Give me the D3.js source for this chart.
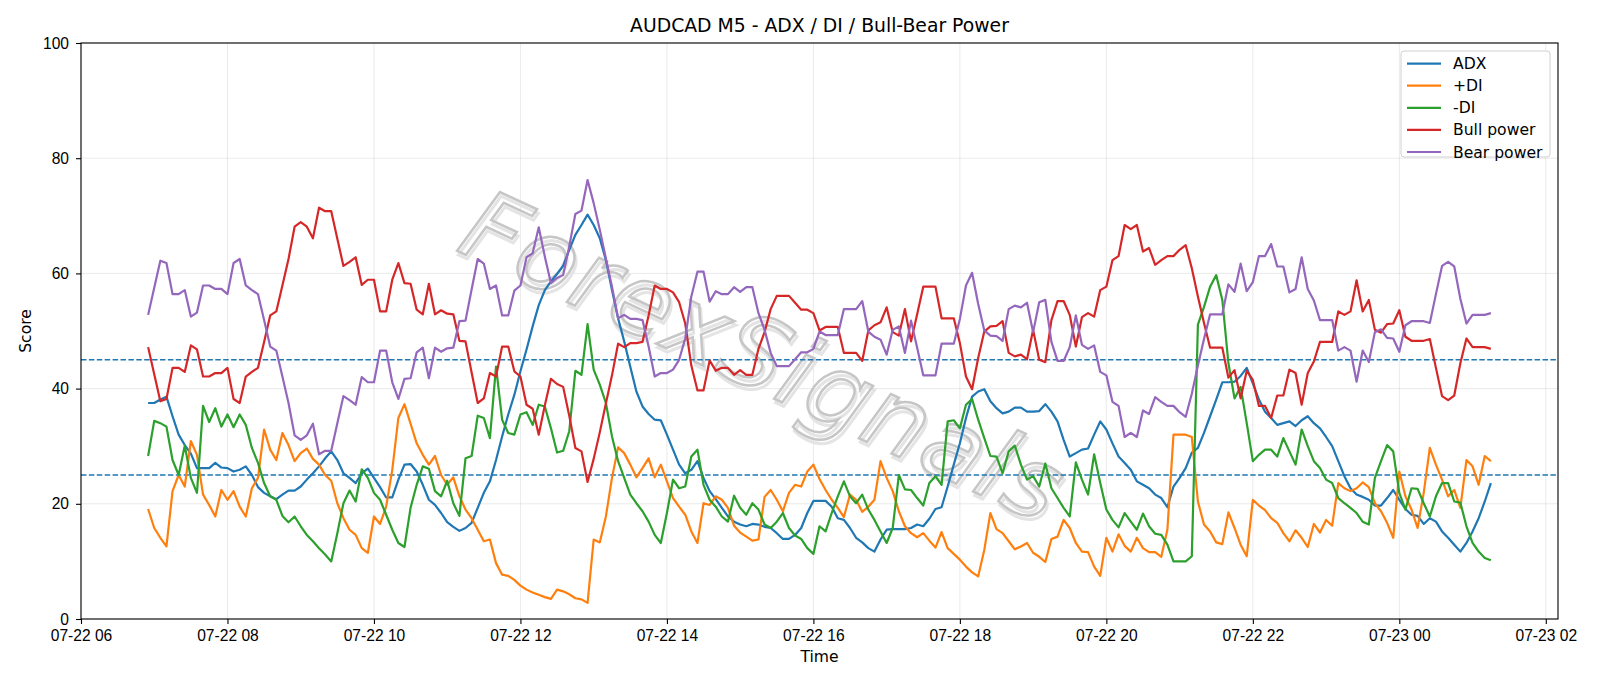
<!DOCTYPE html>
<html>
<head>
<meta charset="utf-8">
<script src="https://cdn.jsdelivr.net/npm/d3@7"></script>
<style>
  body { margin: 0; background: #fff; }
  svg { font-family: "DejaVu Sans", sans-serif; }
</style>
</head>
<body>
<div id="chart"></div>
<script>
// 5-minute bars, first one at 07-22 06:55
const startTime = Date.UTC(2025, 6, 22, 6, 55);
const stepMinutes = 5;

const adx = [37.5,37.5,38.1,38.6,35.2,32.0,30.2,28.7,26.2,26.2,26.2,27.1,26.3,26.2,25.6,25.9,26.5,25.0,22.9,21.9,
  21.3,20.8,21.6,22.3,22.3,23.0,24.2,25.3,26.5,27.9,29.1,27.6,25.3,24.5,23.6,25.3,26.1,24.5,22.9,21.1,
  21.1,24.2,26.8,26.9,25.6,23.3,20.7,19.8,18.4,16.8,16.0,15.3,15.8,16.7,19.3,21.9,23.9,27.6,31.7,35.5,
  38.9,43.0,46.8,50.8,54.5,57.1,58.6,59.9,61.3,64.1,66.7,68.4,70.2,68.4,66.1,62.3,57.1,52.2,48.2,43.8,
  39.5,36.9,35.6,34.6,34.5,32.0,29.4,26.8,25.3,25.9,27.4,24.5,22.2,20.8,19.3,17.8,16.9,16.4,16.1,16.5,
  16.4,16.0,15.8,14.9,13.9,13.9,14.6,15.8,18.4,20.5,20.5,20.5,19.5,17.5,17.2,15.8,14.1,13.3,12.3,11.7,
  13.8,15.5,15.6,15.6,15.6,15.8,16.4,16.1,17.4,19.1,19.4,23.0,26.8,30.5,34.9,38.6,39.5,39.9,37.8,36.6,
  35.7,36.0,36.7,36.7,36.0,36.0,36.1,37.3,36.0,34.3,31.1,28.2,28.8,29.4,29.6,32.0,34.3,32.9,30.5,28.2,
  27.1,25.9,23.9,23.3,22.7,21.6,21.0,19.4,23.0,24.5,26.2,28.9,29.7,32.3,35.2,38.1,41.1,41.1,41.2,42.2,
  43.6,40.9,38.1,36.0,34.9,33.7,34.0,34.3,33.5,34.5,35.2,34.0,33.1,31.6,30.0,27.4,24.8,22.7,21.6,21.2,
  20.7,19.7,19.7,21.0,22.4,20.7,19.1,18.1,17.9,16.5,17.5,16.9,15.2,14.1,12.9,11.7,13.2,15.2,17.5,20.4,
  23.6];

const plusDI = [19.1,15.8,14.1,12.6,22.2,25.0,23.0,30.9,28.5,21.6,19.8,17.8,22.4,20.7,22.2,19.5,17.8,22.7,24.5,32.9,
  29.4,27.6,32.3,30.2,27.4,28.8,29.6,27.8,26.8,25.0,24.0,20.1,17.5,15.5,14.6,12.3,11.5,17.8,16.5,19.5,
  25.9,34.9,37.3,33.9,30.5,28.5,26.8,28.3,25.0,23.3,24.6,21.3,19.0,17.5,15.5,13.5,13.8,9.7,7.7,7.5,
  6.8,5.8,5.1,4.6,4.2,3.8,3.5,5.1,4.8,4.3,3.6,3.4,2.8,13.8,13.3,17.8,24.5,29.8,28.8,26.8,
  24.6,26.2,27.9,24.6,26.8,23.9,21.0,19.5,18.1,15.2,13.2,20.1,19.8,21.3,20.7,19.3,16.2,15.0,14.3,13.6,
  13.8,21.2,22.4,20.7,18.7,21.9,23.3,23.0,25.6,26.8,24.3,22.4,20.7,19.3,17.7,21.6,20.7,18.6,19.5,20.7,
  27.4,24.5,22.2,18.7,16.1,14.9,14.2,14.9,13.6,12.4,15.1,12.3,11.3,10.3,9.1,8.1,7.4,12.0,18.4,15.6,
  14.9,13.5,12.1,12.6,13.2,11.5,10.8,9.9,13.9,14.3,17.2,15.8,13.2,11.7,11.6,9.1,7.5,14.1,11.7,14.7,
  12.7,11.7,14.1,12.3,11.6,11.6,10.8,15.5,32.0,32.0,32.0,31.6,20.4,16.4,15.2,13.3,13.0,18.5,15.8,12.9,
  10.9,20.7,19.7,18.9,17.5,16.7,14.9,13.5,15.4,14.1,12.5,16.5,15.0,17.2,16.2,23.6,22.7,22.2,22.7,23.7,
  22.9,20.1,18.7,16.7,14.1,25.6,21.3,19.0,15.8,21.9,29.7,26.8,24.2,21.3,22.4,19.3,27.6,26.5,23.3,28.3,
  27.4];

const minusDI = [28.3,34.4,34.0,33.4,27.6,25.0,30.1,24.5,21.9,37.0,34.2,36.6,33.4,35.5,33.3,35.5,33.7,29.7,27.1,23.6,
  21.3,20.7,17.9,16.8,17.8,16.1,14.6,13.5,12.3,11.2,10.0,14.9,20.1,22.3,20.4,26.0,24.5,21.9,20.7,18.1,
  15.5,13.2,12.5,19.3,23.3,26.5,26.1,22.2,21.3,24.0,20.1,17.9,27.9,28.3,35.3,34.9,31.4,43.8,34.6,32.3,
  32.0,35.5,35.9,33.7,37.2,36.9,33.1,28.9,29.2,32.6,43.1,42.4,51.2,43.3,40.7,37.5,31.7,27.4,24.5,21.6,
  20.1,18.7,16.9,14.6,13.2,18.4,24.2,22.7,23.0,28.2,29.4,23.3,20.7,19.5,17.8,16.9,21.4,19.3,18.1,20.1,
  19.0,16.4,15.8,16.9,18.4,15.8,14.5,13.9,12.3,11.3,16.1,15.2,18.4,21.3,23.9,21.3,20.1,21.6,19.0,17.2,
  15.2,13.2,15.8,25.0,22.5,22.4,21.0,19.7,23.6,24.8,23.3,34.3,34.5,33.1,37.2,38.2,34.6,31.4,28.3,28.2,
  25.3,29.1,30.1,26.8,24.2,24.8,23.0,27.0,22.7,21.0,19.3,17.8,27.2,24.2,21.6,28.6,23.6,19.0,17.2,15.9,
  18.4,16.9,15.5,18.3,16.1,14.8,14.6,12.9,10.0,10.0,10.0,10.9,51.1,54.2,57.7,59.7,55.4,44.4,38.3,40.3,
  34.0,27.4,28.5,29.4,29.4,28.2,31.4,29.1,26.8,32.9,30.0,27.4,26.2,24.2,23.6,21.0,20.1,19.3,18.4,16.9,
  16.4,24.5,27.4,30.2,29.1,21.9,19.0,22.7,22.6,20.1,17.8,21.3,23.6,23.6,20.4,20.2,16.1,13.2,11.7,10.6,
  10.2];

const bullPower = [47.2,42.5,37.8,38.2,43.6,43.6,42.9,47.5,46.8,42.1,42.1,42.7,42.7,43.6,38.2,37.5,42.1,42.9,43.6,48.1,
  52.7,53.4,57.9,62.5,68.1,68.9,68.1,66.1,71.4,70.8,70.8,66.0,61.3,62.0,62.8,58.0,58.9,58.9,53.4,53.4,
  58.9,61.8,58.3,58.2,53.7,52.9,58.2,52.9,53.6,53.0,52.9,48.3,48.2,42.8,37.5,38.3,42.7,42.1,47.3,47.3,
  43.0,42.1,37.2,36.5,32.0,37.1,41.7,40.8,40.3,35.3,29.7,29.1,23.8,27.8,32.4,37.4,42.3,47.8,47.2,47.9,
  47.9,48.1,52.7,57.9,57.3,57.3,56.7,55.0,51.3,44.0,39.7,39.7,44.9,43.1,43.6,43.6,42.4,43.2,42.4,42.4,
  46.9,49.8,53.8,56.1,56.1,56.1,54.9,53.7,53.7,53.1,50.1,50.7,50.7,50.7,46.2,46.2,46.2,44.8,50.1,51.0,
  51.5,54.1,49.8,49.2,53.8,48.2,52.9,57.7,57.7,57.7,52.2,52.2,52.2,47.9,42.1,39.9,45.3,49.9,50.8,50.9,
  51.7,46.2,45.6,45.9,45.1,50.2,45.0,44.6,51.9,55.2,55.2,52.8,47.3,52.4,53.1,52.5,57.1,57.7,62.3,63.0,
  68.4,67.7,68.4,63.8,64.4,61.5,62.3,63.0,63.0,64.1,64.9,60.9,56.0,51.4,47.1,47.1,47.1,41.9,43.2,38.3,
  43.1,41.5,37.0,37.0,34.9,38.8,38.8,43.3,42.7,37.2,42.7,44.7,48.1,48.1,48.1,53.4,52.8,53.4,58.8,53.4,
  55.4,50.2,49.7,51.2,51.3,53.6,49.0,48.3,48.3,48.3,48.6,43.6,38.7,38.0,38.8,44.4,48.7,47.2,47.2,47.2,
  46.9];

const bearPower = [52.8,57.5,62.2,61.8,56.4,56.4,57.1,52.5,53.2,57.9,57.9,57.3,57.3,56.4,61.8,62.5,57.9,57.1,56.4,51.9,
  47.3,46.6,42.1,37.5,31.9,31.1,31.9,33.9,28.6,29.2,29.2,34.0,38.7,38.0,37.2,42.0,41.1,41.1,46.6,46.6,
  41.1,38.2,41.7,41.8,46.3,47.1,41.8,47.1,46.4,47.0,47.1,51.7,51.8,57.2,62.5,61.7,57.3,57.9,52.7,52.7,
  57.0,57.9,62.8,63.5,68.0,62.9,58.3,59.2,59.7,64.7,70.3,70.9,76.2,72.2,67.6,62.6,57.7,52.2,52.8,52.1,
  52.1,51.9,47.3,42.1,42.7,42.7,43.3,45.0,48.7,56.0,60.3,60.3,55.1,56.9,56.4,56.4,57.6,56.8,57.6,57.6,
  53.1,50.2,46.2,43.9,43.9,43.9,45.1,46.3,46.3,46.9,49.9,49.3,49.3,49.3,53.8,53.8,53.8,55.2,49.9,49.0,
  48.5,45.9,50.2,50.8,46.2,51.8,47.1,42.3,42.3,42.3,47.8,47.8,47.8,52.1,57.9,60.1,54.7,50.1,49.2,49.1,
  48.3,53.8,54.4,54.1,54.9,49.8,55.0,55.4,48.1,44.8,44.8,47.2,52.7,47.6,46.9,47.5,42.9,42.3,37.7,37.0,
  31.6,32.3,31.6,36.2,35.6,38.5,37.7,37.0,37.0,35.9,35.1,39.1,44.0,48.6,52.9,52.9,52.9,58.1,56.8,61.7,
  56.9,58.5,63.0,63.0,65.1,61.2,61.2,56.7,57.3,62.8,57.3,55.3,51.9,51.9,51.9,46.6,47.2,46.6,41.2,46.6,
  44.6,49.8,50.3,48.8,48.7,46.4,51.0,51.7,51.7,51.7,51.4,56.4,61.3,62.0,61.2,55.6,51.3,52.8,52.8,52.8,
  53.1];

const seriesNames = ["ADX", "+DI", "-DI", "Bull power", "Bear power"];
const seriesColors = ["#1f77b4", "#ff7f0e", "#2ca02c", "#d62728", "#9467bd"];
const thresholds = [45, 25];
const yTicks = [0, 20, 40, 60, 80, 100];

const width = 1600, height = 686;
const margin = { top: 43, right: 42, bottom: 67, left: 81 };
const innerW = width - margin.left - margin.right;
const innerH = height - margin.top - margin.bottom;
const fontSize = "15.6px";

const times = adx.map((d, i) => new Date(startTime + i * stepMinutes * 60000));
const series = [adx, plusDI, minusDI, bullPower, bearPower].map((vals, k) => ({
  name: seriesNames[k],
  color: seriesColors[k],
  values: vals.map((v, i) => ({ t: times[i], v: v }))
}));

const svg = d3.select("#chart").append("svg")
  .attr("width", width)
  .attr("height", height);

const g = svg.append("g")
  .attr("transform", `translate(${margin.left}, ${margin.top})`);

// matplotlib style 5% padding on the time axis
const t0 = times[0], t1 = times[times.length - 1];
const pad = (t1 - t0) * 0.05;
const x = d3.scaleUtc()
  .domain([new Date(+t0 - pad), new Date(+t1 + pad)])
  .range([0, innerW]);
const y = d3.scaleLinear().domain([0, 100]).range([innerH, 0]);

const xTicks = d3.utcHour.every(2).range(new Date(Date.UTC(2025, 6, 22, 6)), new Date(+t1 + pad));

//grid
g.append("g").selectAll("line").data(xTicks).join("line")
  .attr("x1", d => x(d)).attr("x2", d => x(d))
  .attr("y1", 0).attr("y2", innerH)
  .attr("stroke", "#b0b0b0").attr("stroke-opacity", 0.3).attr("stroke-width", 0.9);
g.append("g").selectAll("line").data(yTicks).join("line")
  .attr("x1", 0).attr("x2", innerW)
  .attr("y1", d => y(d)).attr("y2", d => y(d))
  .attr("stroke", "#b0b0b0").attr("stroke-opacity", 0.3).attr("stroke-width", 0.9);

//watermark (shadow + outline)
const wmPos = `translate(680, 320) rotate(25)`;
g.append("text")
  .attr("transform", wmPos + " translate(3, 3)")
  .attr("text-anchor", "middle")
  .attr("dominant-baseline", "middle")
  .style("font-size", "98px")
  .style("font-style", "italic")
  .style("letter-spacing", "2px")
  .attr("fill", "none")
  .attr("stroke", "#e4e4e4")
  .attr("stroke-width", 3)
  .text("ForexSignals");
g.append("text")
  .attr("transform", wmPos)
  .attr("text-anchor", "middle")
  .attr("dominant-baseline", "middle")
  .style("font-size", "98px")
  .style("font-style", "italic")
  .style("letter-spacing", "2px")
  .attr("fill", "none")
  .attr("stroke", "#c6c6c6")
  .attr("stroke-width", 2.5)
  .text("ForexSignals");

//threshold lines
g.append("g").selectAll("line").data(thresholds).join("line")
  .attr("x1", 0).attr("x2", innerW)
  .attr("y1", d => y(d)).attr("y2", d => y(d))
  .attr("stroke", "#1f77b4").attr("stroke-width", 1.4)
  .attr("stroke-dasharray", "5.5,2.4");

//lines
const lineFunc = d3.line().x(d => x(d.t)).y(d => y(d.v));
g.append("g").selectAll("path").data(series).join("path")
  .attr("d", d => lineFunc(d.values))
  .attr("fill", "none")
  .attr("stroke", d => d.color)
  .attr("stroke-width", 2.2)
  .attr("stroke-linejoin", "round");

//axes
const xAxis = d3.axisBottom(x).tickValues(xTicks).tickFormat(d3.utcFormat("%m-%d %H")).tickSize(5).tickPadding(6);
const yAxis = d3.axisLeft(y).tickValues(yTicks).tickSize(5).tickPadding(7);
const gx = g.append("g").attr("transform", `translate(0, ${innerH})`).call(xAxis);
const gy = g.append("g").call(yAxis);
[gx, gy].forEach(a => {
  a.select(".domain").remove();
  a.selectAll("text").style("font-size", fontSize).attr("fill", "#000");
  a.selectAll("line").attr("stroke", "#000").attr("stroke-width", 1.1);
});

//frame
g.append("rect")
  .attr("width", innerW).attr("height", innerH)
  .attr("fill", "none").attr("stroke", "#000").attr("stroke-width", 1.1);

//labels and title
svg.append("text")
  .attr("x", margin.left + innerW / 2).attr("y", 32)
  .attr("text-anchor", "middle")
  .style("font-size", "18.8px")
  .text("AUDCAD M5 - ADX / DI / Bull-Bear Power");
svg.append("text")
  .attr("x", margin.left + innerW / 2).attr("y", 662)
  .attr("text-anchor", "middle")
  .style("font-size", fontSize)
  .text("Time");
svg.append("text")
  .attr("transform", `translate(31, ${margin.top + innerH / 2}) rotate(-90)`)
  .attr("text-anchor", "middle")
  .style("font-size", fontSize)
  .text("Score");

//legend
const legend = svg.append("g").attr("transform", "translate(1401, 51)");
legend.append("rect")
  .attr("width", 149).attr("height", 106)
  .attr("rx", 3)
  .attr("fill", "#fff").attr("fill-opacity", 0.8)
  .attr("stroke", "#d0d0d0");
const items = legend.selectAll("g.item").data(series).join("g")
  .attr("class", "item")
  .attr("transform", (d, i) => `translate(0, ${12.6 + i * 22.1})`);
items.append("line")
  .attr("x1", 6).attr("x2", 40)
  .attr("stroke", d => d.color).attr("stroke-width", 2.2);
items.append("text")
  .attr("x", 52).attr("y", 5.5)
  .style("font-size", fontSize)
  .text(d => d.name);
</script>
</body>
</html>
